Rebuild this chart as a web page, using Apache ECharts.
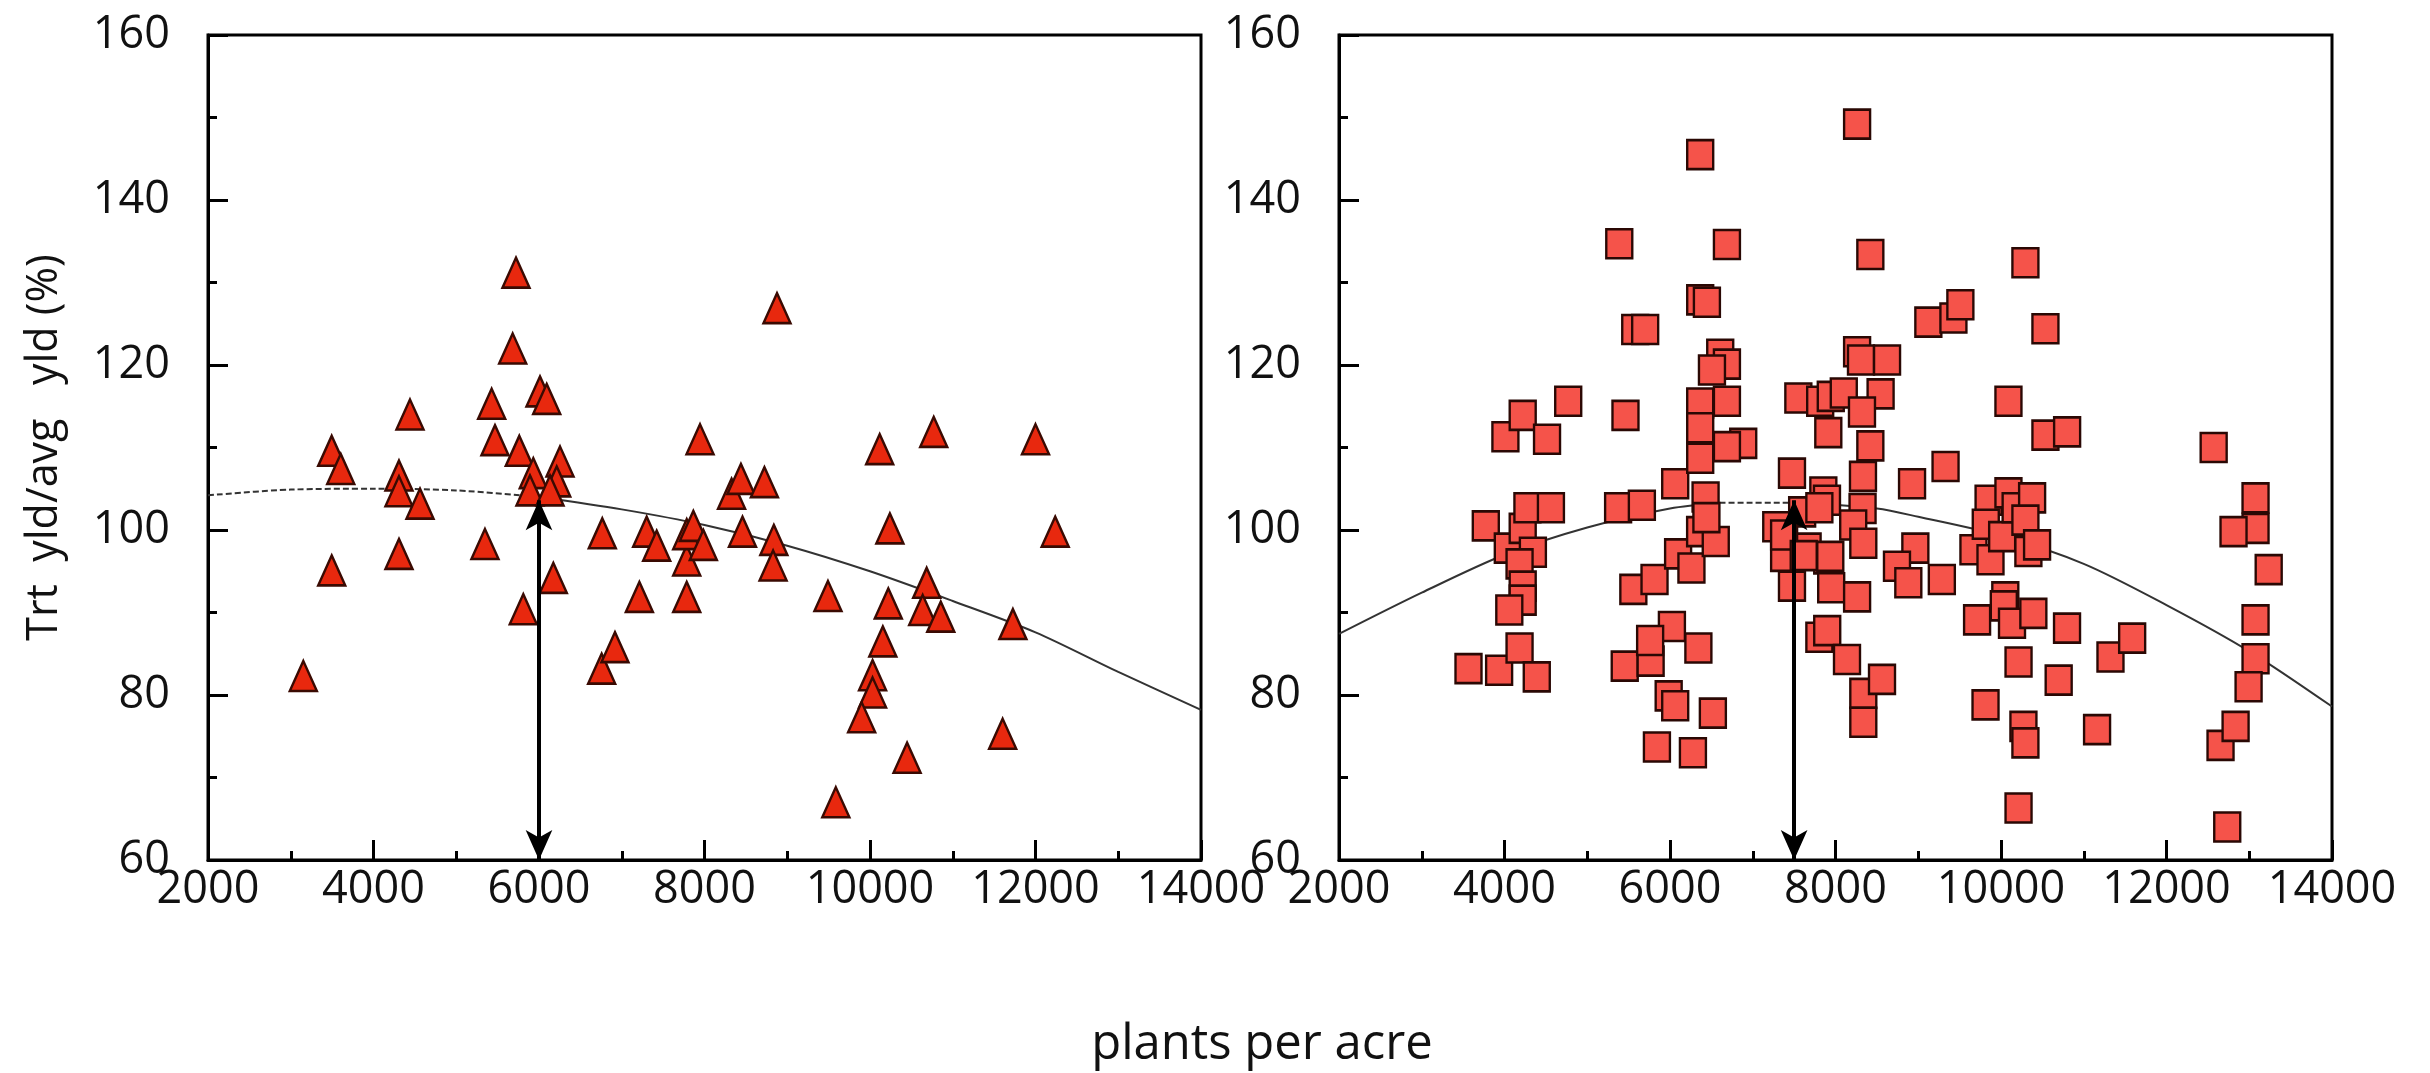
<!DOCTYPE html>
<html>
<head>
<meta charset="utf-8">
<script src="https://cdn.jsdelivr.net/npm/echarts@6/dist/echarts.min.js"></script>
<style>
  html, body { margin: 0; padding: 0; background: #fff; }
  #chart { width: 2430px; height: 1073px; }
</style>
</head>
<body>
<div id="chart"></div>
<script>
// left panel (triangles)
const triX = [3152, 3495, 3604, 3495, 4441, 4308, 4308, 4562, 4308, 5347, 5722, 5682, 5428, 5468, 5762, 6012, 6093, 5931, 6254, 6214,
  5891, 6133, 5810, 6173, 6765, 6757, 6918, 7213, 7301, 7422, 7785, 7785, 7785, 7865, 7986, 7946, 8327, 8440, 8459, 8724,
  8876, 8838, 8829, 9492, 9587, 10117, 10240, 10221, 10155, 10031, 10031, 9899, 10448, 10685, 10637, 10855, 10770, 11727, 11603, 12000, 12238];
const triY = [82.3, 109.6, 107.4, 95.1, 114.0, 106.6, 104.7, 103.2, 97.1, 98.3, 131.2, 122.0, 115.3, 110.9, 109.6, 116.8, 115.9, 106.9, 108.3, 105.9,
  104.8, 104.8, 90.4, 94.2, 99.6, 83.2, 85.8, 91.9, 99.8, 98.1, 91.9, 96.3, 99.5, 100.5, 98.2, 111.0, 104.4, 106.2, 99.8, 105.8,
  126.9, 98.8, 95.7, 92.0, 67.0, 109.8, 100.2, 91.1, 86.5, 82.4, 80.3, 77.3, 72.4, 93.6, 90.3, 89.5, 111.9, 88.6, 75.3, 111.0, 99.8];

// right panel (squares)
const sqX = [3565, 3935, 3774, 4011, 4220, 4514, 4770, 4040, 4220, 4343, 4182, 4220, 4220, 4058, 4277, 4561, 4182, 4390,
  5387, 5462, 5373, 5660, 5580, 5700, 5453, 5766, 5557, 5813, 5842, 6023, 5984, 6063, 6063, 6098, 6259, 6277, 6343, 6518, 5760,
  6365, 6688, 6365, 6446, 6607, 6688, 6507, 6365, 6688, 6365, 6365, 6885, 6688, 6430, 6364, 6553, 6440,
  7284, 7379, 7474, 7474, 7551, 7815, 7943, 8100, 8261, 8421, 8261, 8308, 8623, 8545, 8320, 7913, 8421, 8332, 7853, 7897, 7597, 7805, 8327,
  7663, 7900, 7948, 8214, 8336, 8261, 7805, 7900, 8139, 8336, 8336, 8562, 7379, 7616, 7937,
  8925, 9330, 8965, 8743, 8880, 9285, 9122, 9425, 9509,
  10090, 10295, 10537, 10537, 10799, 9667, 9850, 9816, 9873, 10014, 10090, 10177, 10376, 10295, 10331, 10436, 10052, 10034, 10133, 10391,
  9711, 9813, 10212, 10271, 10295, 10212, 10697, 10798,
  11161, 11323, 11585, 12570, 12734, 12653, 12835, 13076, 13076, 12810, 13235, 13076, 13076, 12992];
const sqY = [83.2, 83.0, 100.5, 111.3, 113.9, 111.0, 115.6, 97.8, 100.2, 97.3, 95.9, 93.2, 91.5, 90.3, 102.7, 102.7, 85.7, 82.2,
  134.7, 113.9, 102.7, 103.0, 124.3, 124.3, 83.5, 84.1, 92.8, 94.0, 73.7, 88.3, 79.9, 78.7, 105.6, 97.1, 95.4, 73.0, 85.7, 77.8, 86.6,
  145.5, 134.6, 127.9, 127.6, 121.3, 120.1, 119.4, 115.4, 115.6, 112.4, 108.7, 110.5, 110.1, 104.0, 99.8, 98.6, 101.5,
  100.4, 96.8, 93.2, 106.9, 116.0, 115.6, 116.2, 116.6, 149.2, 133.4, 121.6, 120.6, 120.6, 116.5, 114.3, 111.8, 110.2, 106.5, 104.6, 103.6, 102.2, 102.7, 102.6,
  97.8, 96.5, 93.0, 100.6, 98.4, 91.9, 87.0, 87.8, 84.3, 80.2, 76.7, 81.9, 99.4, 96.9, 96.8,
  105.6, 107.7, 97.8, 95.6, 93.6, 94.0, 125.2, 125.7, 127.3,
  115.6, 132.4, 124.4, 111.5, 111.9, 97.6, 103.6, 100.7, 96.4, 99.2, 104.5, 102.7, 103.9, 101.2, 97.4, 98.2, 91.9, 90.8, 88.7, 89.9,
  89.1, 78.8, 84.0, 76.2, 74.2, 66.3, 81.8, 88.1,
  75.8, 84.6, 86.9, 110.0, 64.0, 73.9, 76.2, 103.9, 100.2, 99.8, 95.2, 89.1, 84.4, 81.0];

// fitted curves; flat parts are drawn dashed
const leftFlatX = [2000, 3000, 4000, 5000, 6000];
const leftFlatY = [104.2, 104.9, 105.0, 104.8, 104.0];
const leftFallX = [6000, 7000, 8000, 9000, 10000, 11000, 12000, 13000, 14000];
const leftFallY = [104.0, 102.5, 100.6, 98.1, 95.0, 91.4, 87.6, 82.8, 78.2];
const rightRiseX = [2000, 3000, 4000, 5000, 6000, 6600];
const rightRiseY = [87.4, 92.4, 97.0, 100.3, 102.6, 103.3];
const rightFlatX = [6600, 7600];
const rightFlatY = [103.3, 103.3];
const rightFallX = [7600, 8500, 9000, 10000, 11000, 12000, 13000, 14000];
const rightFallY = [103.3, 102.6, 101.6, 99.3, 95.9, 90.9, 85.3, 78.6];

// optimum arrows
const arrowX = [6000, 7500];
const arrowTop = [103.6, 103.6];

const xTicks = [2000, 14000, 2000];   // min, max, step
const yTicks = [60, 160, 20];

function zip(xs, ys) {
  return xs.map((x, i) => [x, ys[i]]);
}

const FONT = 'Open Sans';

function makeX(idx) {
  return {
    gridIndex: idx,
    type: 'value',
    min: xTicks[0], max: xTicks[1], interval: xTicks[2],
    axisLine: { show: true, onZero: false, lineStyle: { color: '#000', width: 3 } },
    axisTick: { show: true, inside: true, length: 20, lineStyle: { color: '#000', width: 3 } },
    minorTick: { show: true, splitNumber: 2, length: 9, lineStyle: { color: '#000', width: 3 } },
    splitLine: { show: false },
    axisLabel: { fontFamily: FONT, fontSize: 45, color: '#111', margin: 8, formatter: v => String(v) }
  };
}

function makeY(idx, name) {
  return {
    gridIndex: idx,
    type: 'value',
    min: yTicks[0], max: yTicks[1], interval: yTicks[2],
    name: name,
    nameLocation: 'middle',
    nameGap: 142,
    nameTextStyle: { fontFamily: FONT, fontSize: 43, color: '#111' },
    axisLine: { show: true, onZero: false, lineStyle: { color: '#000', width: 3 } },
    axisTick: { show: true, inside: true, length: 20, lineStyle: { color: '#000', width: 3 } },
    minorTick: { show: true, splitNumber: 2, length: 9, lineStyle: { color: '#000', width: 3 } },
    splitLine: { show: false },
    axisLabel: { fontFamily: FONT, fontSize: 45, color: '#111', margin: 38, formatter: v => String(v) }
  };
}

function fitLine(idx, xs, ys, dashed) {
  return {
    type: 'line',
    xAxisIndex: idx, yAxisIndex: idx,
    data: zip(xs, ys),
    smooth: 0.3,
    symbol: 'none',
    z: 1,
    lineStyle: { color: '#333', width: 2, type: dashed ? [6, 3] : 'solid' }
  };
}

function arrow(i) {
  return {
    silent: true,
    symbol: ['arrow', 'arrow'],
    symbolSize: [20, 30],
    label: { show: false },
    lineStyle: { color: '#000', width: 4, type: 'solid' },
    data: [[{ coord: [arrowX[i], yTicks[0]] }, { coord: [arrowX[i], arrowTop[i]] }]]
  };
}

const chart = echarts.init(document.getElementById('chart'), null, { renderer: 'canvas' });

chart.setOption({
  animation: false,
  backgroundColor: '#fff',
  grid: [
    { left: 208, top: 35, width: 993, height: 825, show: true, borderColor: '#000', borderWidth: 3 },
    { left: 1339, top: 35, width: 993, height: 825, show: true, borderColor: '#000', borderWidth: 3 }
  ],
  xAxis: [makeX(0), makeX(1)],
  yAxis: [makeY(0, 'Trt  yld/avg   yld (%)'), makeY(1, '')],
  graphic: [{
    type: 'text',
    x: 1262, y: 1045,
    style: {
      text: 'plants per acre',
      font: '49px "Open Sans"',
      fill: '#111',
      textAlign: 'center',
      textVerticalAlign: 'middle'
    }
  }],
  series: [
    fitLine(0, leftFlatX, leftFlatY, true),
    fitLine(0, leftFallX, leftFallY, false),
    fitLine(1, rightRiseX, rightRiseY, false),
    fitLine(1, rightFlatX, rightFlatY, true),
    fitLine(1, rightFallX, rightFallY, false),
    {
      type: 'scatter',
      xAxisIndex: 0, yAxisIndex: 0,
      data: zip(triX, triY),
      symbol: 'triangle',
      symbolSize: [27, 30],
      itemStyle: { color: '#E8280E', borderColor: '#3a0a02', borderWidth: 2.5, opacity: 1 },
      markLine: arrow(0)
    },
    {
      type: 'scatter',
      xAxisIndex: 1, yAxisIndex: 1,
      data: zip(sqX, sqY),
      symbol: 'rect',
      symbolSize: [26, 29],
      itemStyle: { color: '#F5534A', borderColor: '#2a0804', borderWidth: 2.5, opacity: 1 },
      markLine: arrow(1)
    }
  ]
});
</script>
</body>
</html>
